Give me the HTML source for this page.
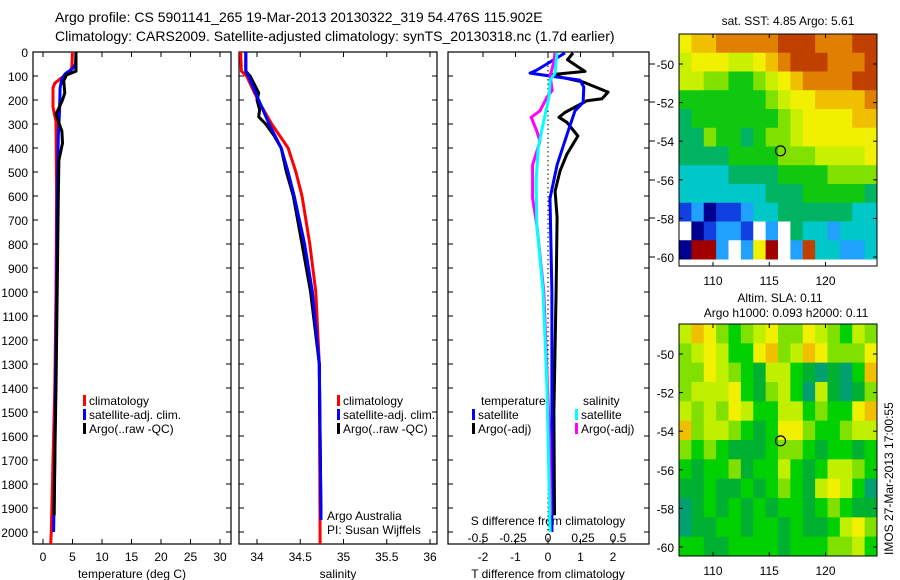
<!DOCTYPE html>
<html><head><meta charset="utf-8"><style>
body{margin:0;background:#fff}
svg{display:block;font-family:"Liberation Sans",sans-serif}
</style></head><body>
<svg id="s" width="900" height="580" viewBox="0 0 900 580">
<text x="55" y="22" font-size="14">Argo profile: CS 5901141_265 19-Mar-2013 20130322_319 54.476S 115.902E</text>
<text x="55" y="41" font-size="14">Climatology: CARS2009. Satellite-adjusted climatology: synTS_20130318.nc (1.7d earlier)</text>
</svg>
<script>
const NS='http://www.w3.org/2000/svg';const svg=document.getElementById('s');
function mk(t,a,p){const e=document.createElementNS(NS,t);for(const k in a)e.setAttribute(k,a[k]);(p||svg).appendChild(e);return e;}
// ---- data ----
const depthTicks=[0,100,200,300,400,500,600,700,800,900,1000,1100,1200,1300,1400,1500,1600,1700,1800,1900,2000];
const tempTicks=[0,5,10,15,20,25,30];
const salTicks=[34,34.5,35,35.5,36];
const salTickLabels=['34','34.5','35','35.5','36'];
const tdTicks=[-2,-1,0,1,2];
const sdTicks=[-0.5,-0.25,0,0.25,0.5];
const sdTickLabels=['-0.5','-0.25','0','0.25','0.5'];
const tClimD=[0,60,90,110,130,150,230,290,600,1000,1400,1700,2000,2050];
const tClimV=[5.0,4.9,4.5,3.0,2.0,1.7,1.7,2.2,2.3,2.2,2.0,1.7,1.4,1.3];
const tSatD=[0,50,70,90,110,150,250,350,600,1000,1400,1700,2000];
const tSatV=[5.6,5.5,5.0,3.8,3.2,2.9,2.8,2.6,2.4,2.3,2.1,2.0,1.8];
const tArgoD=[0,80,95,120,170,200,260,330,380,450,600,1000,1400,1700,1930];
const tArgoV=[5.6,5.6,4.0,3.5,3.7,3.3,2.2,3.2,3.3,2.7,2.6,2.4,2.2,2.0,1.9];
const sClimD=[0,80,100,200,300,400,500,600,800,1000,1300,2050];
const sClimV=[33.81,33.82,33.88,34.01,34.17,34.36,34.45,34.52,34.61,34.68,34.72,34.73];
const sSatD=[0,80,100,200,300,400,500,600,800,1000,1300,1950];
const sSatV=[33.87,33.87,33.9,34.02,34.14,34.28,34.36,34.43,34.55,34.64,34.72,34.74];
const sArgoD=[0,80,100,170,200,240,270,300,350,400,500,600,800,1000,1300,1930];
const sArgoV=[33.87,33.87,33.92,34.02,34.0,34.03,34.02,34.1,34.2,34.28,34.34,34.42,34.52,34.62,34.72,34.74];
const dTSatD=[4,75,88,100,117,146,210,245,330,470,610,1000,1400,2000];
const dTSatV=[0.52,-0.34,-0.55,0.06,0.98,1.1,1.08,0.83,0.62,0.28,0.06,0.12,0.12,0.12];
const dTArgoD=[4,32,60,81,95,125,167,195,203,252,272,293,350,426,496,580,690,1000,1500,1930];
const dTArgoV=[0.77,0.6,0.9,1.14,0.06,1.08,1.85,1.66,1.2,0.52,0.34,0.58,0.92,0.58,0.37,0.22,0.28,0.25,0.18,0.2];
const dSSatD=[4,88,117,188,300,400,540,720,1000,1400,2000];
const dSSatV=[0.064,0.05,0.015,0.007,-0.035,-0.07,-0.085,-0.08,-0.035,-0.007,0.015];
const dSArgoD=[4,46,100,160,188,245,272,330,372,470,610,720,1000,1600,1930];
const dSArgoV=[0.05,0.04,0.015,0.03,-0.007,-0.057,-0.12,-0.08,-0.057,-0.11,-0.11,-0.08,-0.03,0.01,0.02];
const lonTicks=[110,115,120];
const latTicks=[-50,-52,-54,-56,-58,-60];
const sstGrid=[
[9,10,10,11,11,11,11,11,12,12,12,11,11,11,12,12],
[8,9,9,9,8,8,9,10,11,12,12,12,11,11,11,12],
[8,8,7,7,6,6,7,8,9,10,11,11,11,11,12,12],
[6,6,6,6,6,6,6,7,8,9,9,10,10,10,10,11],
[5,6,6,6,6,6,6,6,7,8,9,9,9,9,10,10],
[5,5,7,6,6,5,6,7,7,8,9,9,9,9,9,9],
[5,5,5,5,6,6,6,6,7,7,7,8,8,8,8,9],
[4,4,4,4,5,5,5,5,6,6,6,6,7,7,7,7],
[4,4,4,4,4,4,4,5,5,5,6,6,6,6,6,5],
[2,3,1,2,2,3,4,4,5,5,5,5,5,5,4,4],
[0,1,2,3,3,2,0,3,0,5,4,4,3,4,4,4],
[1,13,13,3,0,3,9,13,0,3,12,4,4,3,3,4]];
const slaGrid=[
[4,6,5,3,2,3,4,5,3,3,5,4,3,2,4,3],
[3,4,5,4,2,2,5,6,3,4,6,5,3,3,3,5],
[3,3,5,4,3,2,1,4,4,2,1,0,1,0,2,6],
[3,4,4,4,5,2,1,3,4,2,0,4,1,0,1,3],
[4,3,4,3,5,4,2,2,4,4,2,3,2,2,5,6],
[6,3,4,4,3,2,1,2,5,5,3,2,2,3,4,4],
[3,2,3,2,1,1,1,2,3,3,2,1,2,2,1,2],
[2,1,2,2,3,1,2,2,4,2,1,2,4,4,3,2],
[1,1,2,1,1,2,1,2,3,2,1,4,5,4,2,0],
[0,1,2,1,2,1,2,1,2,2,1,2,3,2,1,1],
[0,1,1,2,2,1,2,2,1,2,1,1,2,4,5,3],
[2,2,1,1,2,2,2,2,1,2,2,2,3,3,4,2]];
const sstPal=['#ffffff','#000090','#1040e0','#20a0ff','#00c8c8','#00b464','#10c810','#80e000','#c8f000','#f0f000','#f0c000','#e08000','#c04000','#a00000'];
const slaPal=['#00a070','#00b030','#00d000','#80e000','#c0f000','#f0f000','#f0c000'];
// ---- scales ----
const Y=d=>52+d*0.24;
const xT=v=>43+v*5.9, xS=v=>257+(v-34)*86.5, xD=v=>548+v*32.5, xSD=v=>548+v*140;
const panels=[[33,231,'panel-temperature'],[239,437,'panel-salinity'],[448,649,'panel-difference']];
const FS=12;
const T=(x,y,s,a,fs,name)=>{const e=mk('text',{x,y,'font-size':fs||FS,'text-anchor':a||'middle'});e.textContent=s;return e;};
panels.forEach(p=>{const r=mk('rect',{x:p[0],y:52,width:p[1]-p[0],height:492,fill:'none',stroke:'#000','stroke-width':1.2});

depthTicks.forEach(d=>{mk('line',{x1:p[0],x2:p[0]+5,y1:Y(d),y2:Y(d),stroke:'#000'});mk('line',{x1:p[1],x2:p[1]-5,y1:Y(d),y2:Y(d),stroke:'#000'});});});
depthTicks.forEach(d=>T(28,Y(d)+5,String(d),'end',FS,'depth-tick-label'));
function xticks(vals,labs,f,ly){vals.forEach((v,i)=>{const x=f(v);mk('line',{x1:x,x2:x,y1:52,y2:57,stroke:'#000'});mk('line',{x1:x,x2:x,y1:544,y2:539,stroke:'#000'});if(ly)T(x,ly,labs[i],'middle',FS,'x-tick-label');});}
xticks(tempTicks,tempTicks.map(String),xT,561);
xticks(salTicks,salTickLabels,xS,561);
xticks(tdTicks,tdTicks.map(String),xD,561);
sdTicks.forEach((v,i)=>T(xSD(v),542,sdTickLabels[i],'middle',FS,'s-diff-tick-label'));
T(132,578,'temperature (deg C)','middle',FS,'x-axis-title-temperature');
T(338,578,'salinity','middle',FS,'x-axis-title-salinity');
T(548,578,'T difference from climatology','middle',FS,'x-axis-title-t-difference');
T(548,525,'S difference from climatology','middle',FS,'s-difference-title');
const zl=mk('line',{x1:xD(0),x2:xD(0),y1:52,y2:544,stroke:'#000','stroke-dasharray':'1.5,3'});

function line(D,V,f,col,name){const pts=D.map((d,i)=>f(V[i]).toFixed(1)+','+Y(d).toFixed(1)).join(' ');
const e=mk('polyline',{points:pts,fill:'none',stroke:col,'stroke-width':3,'stroke-linejoin':'round'});}
line(tClimD,tClimV,xT,'#ff0000','temp-climatology-line');line(tSatD,tSatV,xT,'#0000ff','temp-satellite-line');line(tArgoD,tArgoV,xT,'#000','temp-argo-line');
line(sClimD,sClimV,xS,'#ff0000','sal-climatology-line');line(sArgoD,sArgoV,xS,'#000','sal-argo-line');line(sSatD,sSatV,xS,'#0000ff','sal-satellite-line');
line(dTArgoD,dTArgoV,xD,'#000','tdiff-argo-line');line(dTSatD,dTSatV,xD,'#0000ff','tdiff-satellite-line');
line(dSArgoD,dSArgoV,xSD,'#ff00ff','sdiff-argo-line');line(dSSatD,dSSatV,xSD,'#00ffff','sdiff-satellite-line');
function leg(x,y,col,s,name){mk('rect',{x:x,y:y-10,width:3,height:11,fill:col});T(x+6,y,s,'start',FS,name);}
[[83,'panel1'],[337,'panel2']].forEach(l=>{leg(l[0],405,'#ff0000','climatology','legend-climatology');leg(l[0],419,'#0000ff','satellite-adj. clim.','legend-satellite-adj');leg(l[0],433,'#000','Argo(..raw -QC)','legend-argo');});
T(481,405,'temperature','start',FS,'legend-temperature-heading');T(583,405,'salinity','start',FS,'legend-salinity-heading');
leg(472,419,'#0000ff','satellite','legend-t-satellite');leg(472,433,'#000','Argo(-adj)','legend-t-argo');
leg(575,419,'#00ffff','satellite','legend-s-satellite');leg(575,433,'#ff00ff','Argo(-adj)','legend-s-argo');
T(327,520,'Argo Australia','start',FS,'credit-argo-australia');T(327,534,'PI: Susan Wijffels','start',FS,'credit-pi');
[64,102,141,180,218,257].forEach(y=>mk('line',{x1:649,x2:655,y1:y,y2:y,stroke:'#000'}));
const LX=v=>713+(v-110)*11.25;const LY=v=>64+(-50-v)*19.3;
function map(y0,y1,grid,pal,name,bottomData){const g=mk('g',{});
const x0=679,x1=877,rows=grid.length,cols=grid[0].length;const h=(bottomData-y0)/rows,w=(x1-x0)/cols;
mk('rect',{x:x0,y:y0,width:x1-x0,height:y1-y0,fill:'#fff'},g);
grid.forEach((r,i)=>r.forEach((v,j)=>mk('rect',{x:x0+j*w,y:y0+i*h,width:w+0.5,height:h+0.5,fill:pal[v]},g)));
mk('rect',{x:x0,y:y0,width:x1-x0,height:y1-y0,fill:'none',stroke:'#000'},g);
lonTicks.forEach(v=>{mk('line',{x1:LX(v),x2:LX(v),y1:y0,y2:y0+4,stroke:'#000'},g);mk('line',{x1:LX(v),x2:LX(v),y1:y1,y2:y1-4,stroke:'#000'},g);T(LX(v),y1+19,String(v),'middle',FS,'lon-tick-label');});
latTicks.forEach(v=>{const yy=LY(v)+(y0-34);mk('line',{x1:x0,x2:x0+4,y1:yy,y2:yy,stroke:'#000'},g);mk('line',{x1:x1,x2:x1-4,y1:yy,y2:yy,stroke:'#000'},g);T(674,yy+5,String(v),'end',FS,'lat-tick-label');});
const c=mk('circle',{cx:LX(116),cy:LY(-54.5)+(y0-34),r:5,fill:'none',stroke:'#000','stroke-width':1.2});}
map(34,266,sstGrid,sstPal,'sst-map',259);
map(324,556,slaGrid,slaPal,'sla-map',556);
T(788,25,'sat. SST: 4.85 Argo: 5.61','middle',FS,'sst-map-title');
T(780,302,'Altim. SLA: 0.11','middle',FS,'sla-map-title');
T(786,317,'Argo h1000: 0.093 h2000: 0.11','middle',FS,'sla-map-subtitle');
const rt=T(0,0,'IMOS 27-Mar-2013 17:00:55','start',FS,'timestamp');rt.setAttribute('transform','translate(893,555) rotate(-90)');
</script>
</body></html>
